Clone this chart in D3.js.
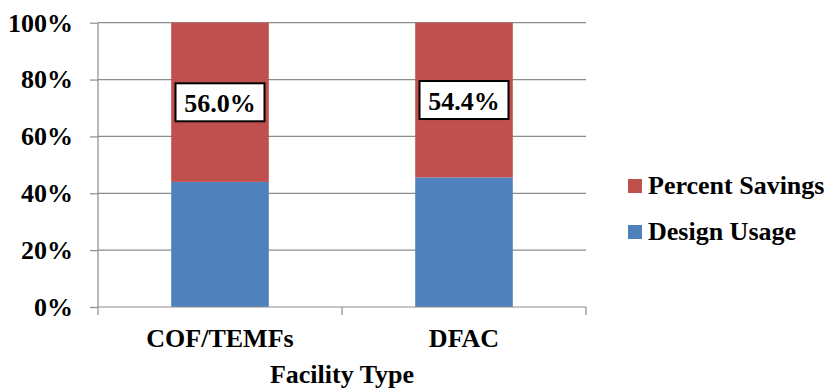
<!DOCTYPE html>
<html>
<head>
<meta charset="utf-8">
<script src="https://cdn.jsdelivr.net/npm/d3@7"></script>
</head>
<body style="margin:0">
<svg id="chart" width="830" height="389"></svg>
<script>
// Facility types on the x axis
const categories = ["COF/TEMFs", "DFAC"];
// Stacked shares (percent of baseline)
const designUsage = [44.0, 45.6];
const percentSavings = [56.0, 54.4];
// Y axis ticks
const yTicks = [0, 20, 40, 60, 80, 100];
const seriesNames = ["Percent Savings", "Design Usage"];
const seriesColors = { "Design Usage": "#4F81BD", "Percent Savings": "#C0504D" };

const svg = d3.select("#chart");
const left = 98, right = 586, plotTop = 22.7, plotBottom = 307;

// apply the serif bold face to a text selection
const serif = (sel, size) => sel
  .attr("font-size", size).attr("font-weight", "bold")
  .attr("font-family", "Liberation Serif")
  .style("font-family", () => "Liberation Serif")
  .attr("fill", "#000");

const x = d3.scaleBand().domain(categories).range([left, right])
  .paddingInner(0.6).paddingOuter(0.3);
const y = d3.scaleLinear().domain([0, 100]).range([plotBottom, plotTop]);

const rows = categories.map((c, i) => ({
  cat: c, "Design Usage": designUsage[i], "Percent Savings": percentSavings[i]
}));
const layers = d3.stack().keys(["Design Usage", "Percent Savings"])(rows);

// Gridlines
svg.append("g").selectAll("line").data(yTicks.filter(t => t > 0)).join("line")
  .attr("x1", left).attr("x2", right)
  .attr("y1", d => y(d)).attr("y2", d => y(d))
  .attr("stroke", "#8c8c8c").attr("stroke-width", 1.2);

// Bars
svg.append("g").selectAll("g").data(layers).join("g")
  .attr("fill", d => seriesColors[d.key])
  .selectAll("rect").data(d => d).join("rect")
  .attr("x", d => x(d.data.cat))
  .attr("width", x.bandwidth())
  .attr("y", d => y(d[1]))
  .attr("height", d => y(d[0]) - y(d[1]));

// Y axis
const yAxis = d3.axisLeft(y).tickValues(yTicks).tickFormat(d => d + "%").tickSize(8).tickPadding(17);
const gy = svg.append("g").attr("transform", `translate(${left},0)`).call(yAxis)
  .attr("font-family", null).attr("font-size", null);
gy.select(".domain").attr("stroke", "#8c8c8c").attr("stroke-width", 1.2)
  .attr("d", `M0,${plotTop}V${plotBottom}`);
gy.selectAll(".tick line").attr("stroke", "#8c8c8c").attr("stroke-width", 1.2);
serif(gy.selectAll(".tick text"), 26);

// X axis: baseline with tick marks between categories
const gx = svg.append("g").attr("transform", `translate(0,${plotBottom})`);
gx.append("line").attr("x1", left).attr("x2", right)
  .attr("stroke", "#8c8c8c").attr("stroke-width", 1.2);
const boundaries = [left, ...categories.map(c => x(c) + x.bandwidth() / 2 + x.step() / 2)];
gx.selectAll("line.tk").data(boundaries).join("line").attr("class", "tk")
  .attr("x1", d => d).attr("x2", d => d).attr("y1", 0).attr("y2", 8)
  .attr("stroke", "#8c8c8c").attr("stroke-width", 1.2);
serif(gx.selectAll("text").data(categories).join("text")
  .attr("x", d => x(d) + x.bandwidth() / 2).attr("y", 40)
  .attr("text-anchor", "middle")
  .text(d => d), 26);

// Axis title
serif(svg.append("text").attr("x", (left + right) / 2).attr("y", 383)
  .attr("text-anchor", "middle")
  .text("Facility Type"), 26);

// Value labels on the savings segments
const savingsLayer = layers.find(l => l.key === "Percent Savings");
const lbl = svg.append("g").selectAll("g").data(savingsLayer).join("g")
  .attr("transform", d => `translate(${x(d.data.cat) + x.bandwidth() / 2},${(y(d[0]) + y(d[1])) / 2})`);
lbl.append("rect").attr("x", -44.5).attr("y", -19).attr("width", 89).attr("height", 38)
  .attr("fill", "#fff").attr("stroke", "#000").attr("stroke-width", 2);
serif(lbl.append("text").attr("text-anchor", "middle").attr("dy", "0.38em")
  .text(d => (d[1] - d[0]).toFixed(1) + "%"), 26);

// Legend
const legend = svg.append("g").selectAll("g").data(seriesNames).join("g")
  .attr("transform", (d, i) => `translate(628,${186 + i * 46})`);
legend.append("rect").attr("x", 0).attr("y", -7).attr("width", 14).attr("height", 14)
  .attr("fill", d => seriesColors[d]);
serif(legend.append("text").attr("x", 20).attr("dy", "0.32em").text(d => d), 26);
</script>
</body>
</html>
